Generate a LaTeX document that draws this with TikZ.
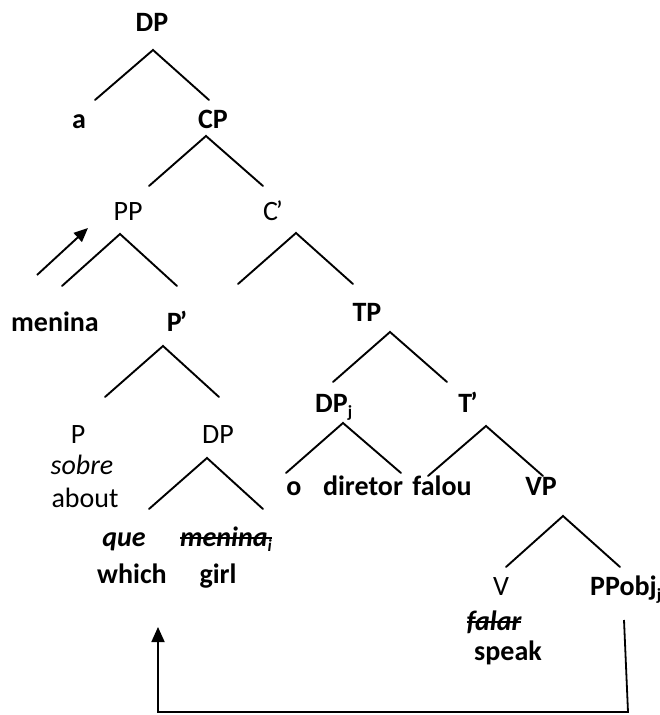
\documentclass[tikz,border=0pt]{standalone}
\usepackage{fontspec}
\setmainfont{Carlito}
\usetikzlibrary{arrows.meta}
\newcommand\strk[1]{\leavevmode\setbox0\hbox{#1}\rlap{\usebox0}\rule[0.52ex]{\wd0}{1.8pt}}
\newcommand\sbs[1]{\raisebox{-0.2em}{\fontsize{17}{17}\selectfont #1}}
\newcommand\xbar[1]{#1\kern-0.07em’}
\tikzset{
  lbl/.style={inner sep=0pt, anchor=base, font=\fontsize{28}{32}\selectfont\bfseries},
  lblr/.style={inner sep=0pt, anchor=base, font=\fontsize{28}{32}\selectfont},
  branch/.style={line width=1.9pt, line cap=round},
  mover/.style={line width=1.8pt, -{Triangle[length=15pt,width=13pt]}}
}
\begin{document}
\begin{tikzpicture}[x=1pt,y=-1pt]
\useasboundingbox (0,0) rectangle (660,715);
% labels
\node[lbl] (dp0) at (152,31) {DP};
\node[lbl] (a) at (79,128) {a};
\node[lbl] (cp) at (213,128) {CP};
\node[lblr] (pp) at (128,220) {PP};
\node[lblr] (cbar) at (273,220) {\xbar{C}};
\node[lbl] (menina) at (55,331) {menina};
\node[lbl] (pbar) at (177,331) {\xbar{P}};
\node[lbl] (tp) at (367,321) {TP};
\node[lbl, anchor=base west] (dpj) at (315,412) {DP\sbs{j}};
\node[lbl] (tbar) at (468,412) {\xbar{T}};
\node[lbl] (o) at (294,495) {o};
\node[lbl] (diretor) at (363,495) {diretor};
\node[lbl] (falou) at (442,495) {falou};
\node[lbl] (vp) at (541,495) {VP};
\node[lblr] (p) at (78,443) {P};
\node[lblr] (dp2) at (218,443) {DP};
\node[lblr] (sobre) at (82,474) {\itshape sobre};
\node[lblr] (about) at (85,507) {about};
\node[lbl] (que) at (124,546) {\itshape que};
\node[lbl, anchor=base west] (meninai) at (180,546) {\itshape\strk{menina\sbs{i}}};
\node[lbl] (which) at (132,583) {which};
\node[lbl] (girl) at (218,583) {girl};
\node[lblr] (v) at (501,595) {V};
\node[lbl, anchor=base west] (ppobj) at (590,595) {PPobj\sbs{j}};
\node[lbl] (falar) at (494,630) {\itshape\strk{falar}};
\node[lbl] (speak) at (508,660) {speak};
% branch points
\coordinate (dp0a) at (153,50);  \coordinate (dp0l) at (95,100);  \coordinate (dp0r) at (209,100);
\coordinate (cpa) at (206,136);  \coordinate (cpl) at (149,186);  \coordinate (cpr) at (263,186);
\coordinate (ppa) at (120,234);  \coordinate (ppl) at (62,286);   \coordinate (ppr) at (177,286);
\coordinate (cbara) at (296,233); \coordinate (cbarl) at (238,284); \coordinate (cbarr) at (353,284);
\coordinate (pbara) at (163,346); \coordinate (pbarl) at (105,397); \coordinate (pbarr) at (219,397);
\coordinate (dp2a) at (207,458); \coordinate (dp2l) at (149,509); \coordinate (dp2r) at (263,509);
\coordinate (tpa) at (390,332);  \coordinate (tpl) at (333,382);  \coordinate (tpr) at (447,382);
\coordinate (dpja) at (343,423); \coordinate (dpjl) at (286,473); \coordinate (dpjr) at (401,473);
\coordinate (tbara) at (486,426); \coordinate (tbarl) at (428,476); \coordinate (tbarr) at (543,476);
\coordinate (vpa) at (563,516);  \coordinate (vpl) at (506,567);  \coordinate (vpr) at (620,567);
% branches
\draw[branch] (dp0l) -- (dp0a) -- (dp0r);
\draw[branch] (cpl) -- (cpa) -- (cpr);
\draw[branch] (ppl) -- (ppa) -- (ppr);
\draw[branch] (cbarl) -- (cbara) -- (cbarr);
\draw[branch] (pbarl) -- (pbara) -- (pbarr);
\draw[branch] (dp2l) -- (dp2a) -- (dp2r);
\draw[branch] (tpl) -- (tpa) -- (tpr);
\draw[branch] (dpjl) -- (dpja) -- (dpjr);
\draw[branch] (tbarl) -- (tbara) -- (tbarr);
\draw[branch] (vpl) -- (vpa) -- (vpr);
% movement arrows
\coordinate (mv1s) at (37,275); \coordinate (mv1e) at (88,228);
\draw[line width=1.9pt, -{Triangle[length=14pt,width=12pt]}] (mv1s) -- (mv1e);
\coordinate (mv2s) at (624,620); \coordinate (mv2c) at (628,712);
\coordinate (mv2d) at (158,712); \coordinate (mv2e) at (158,627);
\draw[mover] (mv2s) -- (mv2c) -- (mv2d) -- (mv2e);
\end{tikzpicture}
\end{document}
